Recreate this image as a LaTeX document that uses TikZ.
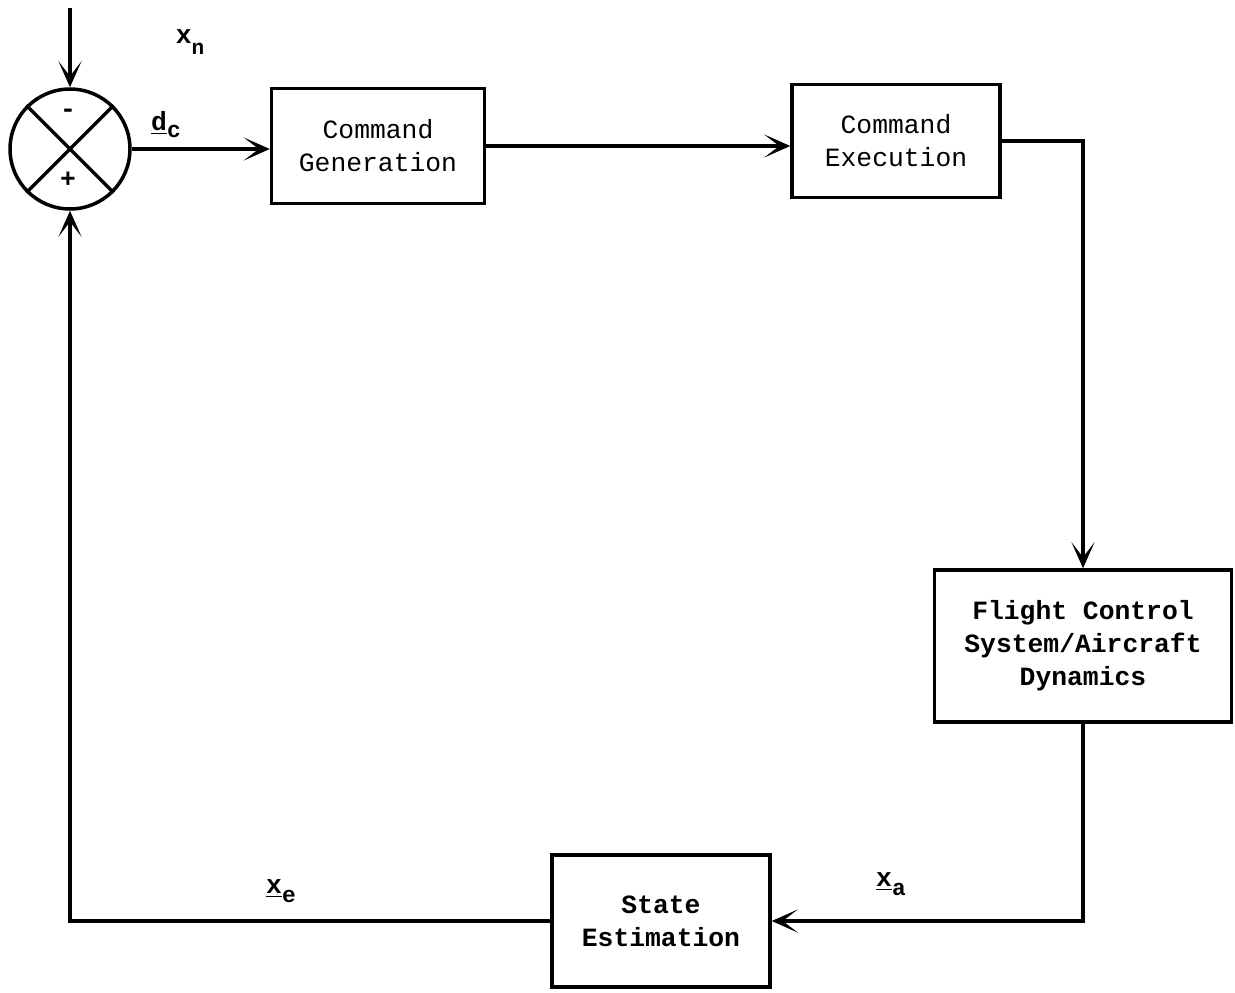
\documentclass[tikz,border=0pt]{standalone}
\usepackage{fontspec}
\setmonofont{Liberation Mono}
\usetikzlibrary{arrows.meta,positioning,calc}

\tikzset{
  blockbox/.style={draw=black,line width=2pt,align=center,inner sep=2pt,
    font=\fontsize{15}{18.8}\selectfont\ttfamily},
  boldbox/.style={blockbox,font=\fontsize{15}{18.8}\selectfont\ttfamily\bfseries},
  sigline/.style={draw=black,line width=2pt},
  sigarrow/.style={sigline,-{Stealth[length=0.52cm,width=0.46cm,inset=0.3cm]}},
  siglabel/.style={font=\fontsize{15}{18}\selectfont\ttfamily\bfseries,inner sep=0pt}
}

\begin{document}
\begin{tikzpicture}[x=0.02cm,y=-0.02cm]
  \useasboundingbox (0,0) rectangle (1235,992);

  % summing junction
  \node[draw=black,line width=2pt,circle,minimum size=2.4cm,inner sep=0pt] (sum) at (70,149) {};
  \draw[sigline] (sum.north west) -- (sum.south east);
  \draw[sigline] (sum.north east) -- (sum.south west);
  \node[siglabel] (minus) at (68,113) {-};
  \node[siglabel] (plus) at (68,180) {+};
  \coordinate (in) at (70,8);

  % blocks
  \node[blockbox,minimum width=4.26cm,minimum height=2.3cm] (cmdgen) at (378,146) {Command\\Generation};
  \node[blockbox,minimum width=4.16cm,minimum height=2.26cm] (cmdexec) at (896,141) {Command\\Execution};
  \node[boldbox,minimum width=5.94cm,minimum height=3.04cm] (fcs) at (1083,646) {Flight Control\\System/Aircraft\\Dynamics};
  \node[boldbox,minimum width=4.36cm,minimum height=2.64cm] (stateest) at (661,921) {State\\Estimation};

  % connectors
  \draw[sigarrow] (in) -- (sum.north);
  \draw[sigarrow] (sum.east) -- (sum.east -| cmdgen.west);
  \draw[sigarrow] (cmdgen.east) -- (cmdgen.east -| cmdexec.west);
  \draw[sigarrow] (cmdexec.east) -| (fcs.north);
  \draw[sigarrow] (fcs.south) |- (stateest.east);
  \draw[sigarrow] (stateest.west) -| (sum.south);

  % signal labels
  \node[siglabel] (xn) at (190,42) {x\raisebox{-0.8ex}{\fontsize{12}{12}\selectfont n}};
  \node[siglabel] (dc) at (166,125) {\underline{d}\raisebox{-0.5ex}{\fontsize{13}{13}\selectfont c}};
  \node[siglabel] (xa) at (891,884) {\underline{x}\raisebox{-0.6ex}{\fontsize{13}{13}\selectfont a}};
  \node[siglabel] (xe) at (281,891) {\underline{x}\raisebox{-0.6ex}{\fontsize{13}{13}\selectfont e}};
\end{tikzpicture}
\end{document}
